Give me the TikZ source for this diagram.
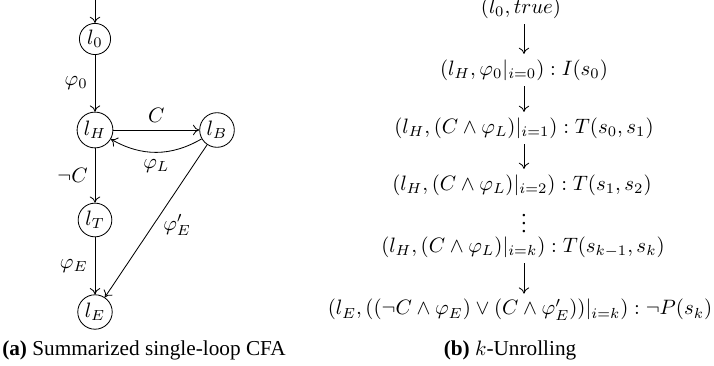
\documentclass[tikz,border=0pt]{standalone}
\usepackage[no-math]{fontspec}
\setmainfont{Liberation Serif}
\usetikzlibrary{arrows.meta}
\begin{document}
\begin{tikzpicture}[x=0.48pt,y=-0.48pt,
  loc/.style={draw,circle,inner sep=1.3pt,minimum size=14.4pt},
  row/.style={inner sep=2.5pt},
  capt/.style={inner sep=0pt,font=\fontsize{10.2}{12}\selectfont},
  edge/.style={->,>={To[length=3pt,width=5pt]}}]
\useasboundingbox (0,0) rectangle (714,366);
% (a) CFA
\coordinate (st) at (95,0);
\node[loc] (l0) at (95,39) {$l_0$};
\node[loc] (lH) at (95,130) {$l_H$};
\node[loc] (lB) at (217,130) {$l_B$};
\node[loc] (lT) at (95,220) {$l_T$};
\node[loc] (lE) at (95,312) {$l_E$};
\draw[edge] (st) -- (l0);
\draw[edge] (l0) -- node[midway,left] {$\varphi_0$} (lH);
\draw[edge] (lH) -- node[midway,above] {$C$} (lB);
\draw[edge] (lB) to[bend left=30] node[midway,below] {$\varphi_L$} (lH);
\draw[edge] (lH) -- node[midway,left] {$\neg C$} (lT);
\draw[edge] (lT) -- node[midway,left] {$\varphi_E$} (lE);
\draw[edge] (lB) -- node[midway,right,yshift=-2pt] {$\varphi'_E$} (lE);
\node[capt] (capa) at (144,350) {\textbf{(a)} Summarized single-loop CFA};
% (b) k-unrolling
\node[row] (r0) at (521,8) {$(l_0, true)$};
\node[row] (r1) at (524,70) {$(l_H, \varphi_0|_{i=0}) : I(s_0)$};
\node[row] (r2) at (524,128) {$(l_H, (C \wedge \varphi_L)|_{i=1}) : T(s_0, s_1)$};
\node[row] (r3) at (522,185) {$(l_H, (C \wedge \varphi_L)|_{i=2}) : T(s_1, s_2)$};
\node[inner sep=0pt,anchor=base] (dots) at (524,233) {$\vdots$};
\node[row] (r4) at (523,247) {$(l_H, (C \wedge \varphi_L)|_{i=k}) : T(s_{k-1}, s_k)$};
\node[row] (r5) at (520,310) {$(l_E, ((\neg C \wedge \varphi_E) \vee (C \wedge \varphi'_E))|_{i=k}) : \neg P(s_k)$};
\draw[edge] (r1.north |- r0.south) -- (r1.north);
\draw[edge] (r1.south) -- (r2.north);
\draw[edge] (r2.south) -- (r2.south |- r3.north);
\draw[edge] (r2.south |- r4.south) -- (r2.south |- r5.north);
\node[capt] (capb) at (510,350) {\textbf{(b)} $k$-Unrolling};
\end{tikzpicture}
\end{document}
